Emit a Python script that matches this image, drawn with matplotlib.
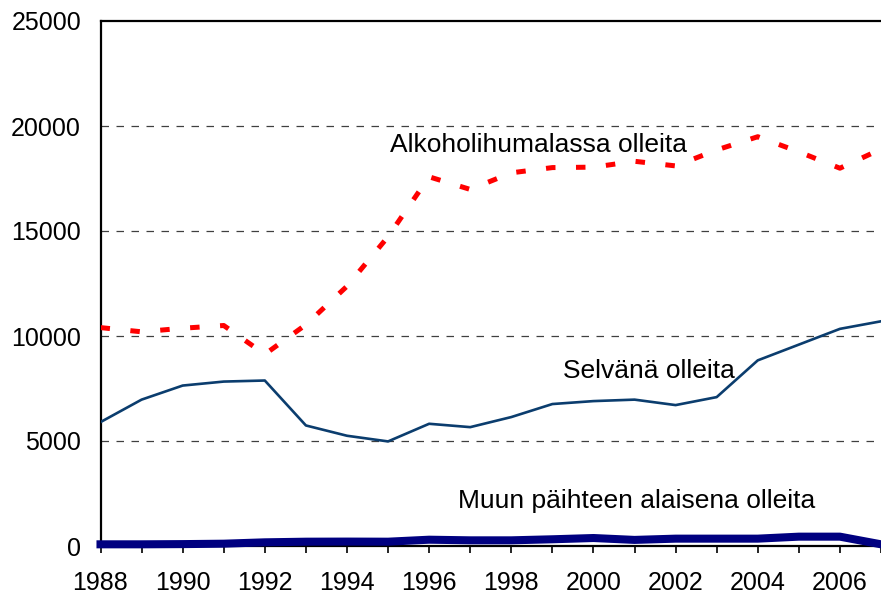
import matplotlib
matplotlib.use("Agg")
import matplotlib.pyplot as plt

# Data
years = list(range(1988, 2008))
alkoholi = [10400, 10200, 10370, 10500, 9130, 10540, 12370, 14730, 17580, 16980,
            17770, 18020, 18040, 18320, 18100, 18860, 19490, 18770, 17990, 18900]
selvana = [5900, 6970, 7640, 7830, 7880, 5740, 5250, 4980, 5820, 5660,
           6140, 6760, 6900, 6970, 6710, 7090, 8840, 9590, 10340, 10700]
muun = [80, 80, 90, 110, 175, 205, 210, 205, 300, 270,
        270, 320, 380, 290, 350, 350, 350, 445, 445, 80]

series_labels = ["Alkoholihumalassa olleita", "Selvänä olleita",
                 "Muun päihteen alaisena olleita"]
yticks = [0, 5000, 10000, 15000, 20000, 25000]

plt.rcParams['font.family'] = ['Liberation Sans', 'DejaVu Sans']

fig = plt.figure(figsize=(8.81, 5.95), dpi=100)
left = 100.5 / 881
bottom = (595 - 546) / 595
top = 1 - 21 / 595
ax = fig.add_axes([left, bottom, 1 - left, top - bottom])

# Lines
ax.plot(years, alkoholi, color='#ff0000', lw=3.6, linestyle=(0, (1.9, 4.1)),
        dash_capstyle='butt', zorder=3)
ax.plot(years, selvana, color='#0b3d6e', lw=1.9, zorder=3)
ax.plot(years, muun, color='#000080', lw=5.8, zorder=4, clip_on=False,
        solid_joinstyle='round')

# Axes settings
ax.set_xlim(1988, 1988 + (881 - 100.5) / 41.42)
ax.set_ylim(0, 25000)
ax.set_yticks(yticks)
ax.set_yticklabels([str(v) for v in yticks])
ax.set_xticks(years)
ax.set_xticklabels([str(y) if y % 2 == 0 else '' for y in years])
ax.tick_params(axis='y', length=0, pad=14, labelsize=18)
ax.tick_params(axis='x', length=5, width=1.2, direction='out', pad=13, labelsize=18)

for g in yticks[1:-1]:
    ax.axhline(g, color='#404040', lw=0.9, linestyle=(0, (6, 6)), zorder=1)

ax.spines['right'].set_visible(False)
for s in ['left', 'bottom', 'top']:
    ax.spines[s].set_linewidth(1.6)
    ax.spines[s].set_color('black')

# Series labels
ax.text(1995.04, 19084, series_labels[0], fontsize=19, va='center', ha='left')
ax.text(1999.26, 8316, series_labels[1], fontsize=19, va='center', ha='left')
ax.text(1996.70, 2147, series_labels[2], fontsize=19, va='center', ha='left')

fig.savefig("out.png", dpi=100)
